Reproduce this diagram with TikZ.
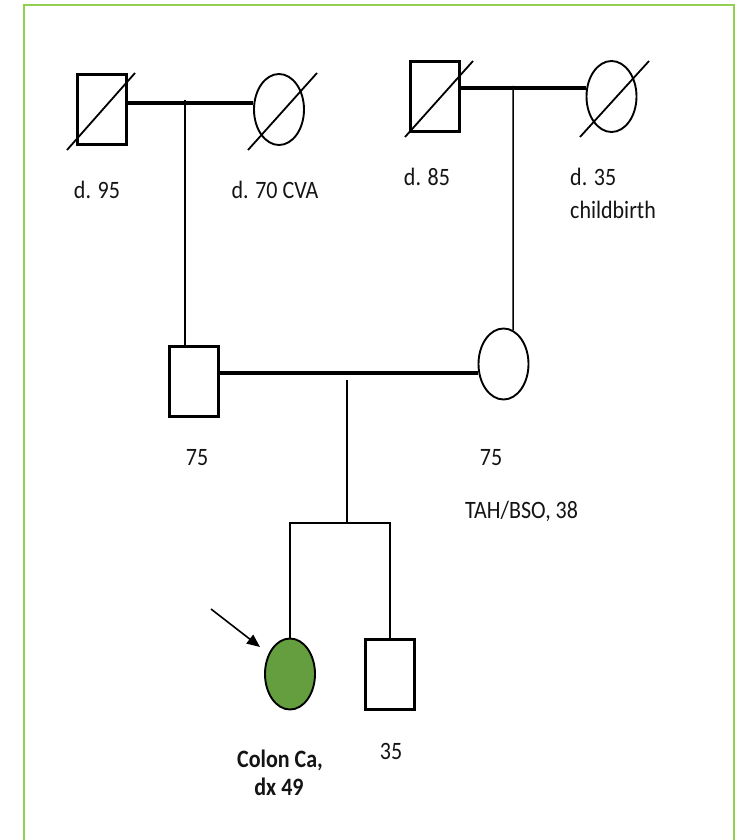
\documentclass[tikz,border=0pt]{standalone}
\usepackage{fontspec}
\setmainfont{Carlito}[FakeStretch=0.88]
\usetikzlibrary{shapes.geometric,arrows.meta}
\definecolor{frame}{RGB}{146,208,80}
\definecolor{ccgreen}{RGB}{100,158,62}
\begin{document}
\begin{tikzpicture}[x=1pt,y=-1pt,
  male/.style={draw,line width=3pt,rectangle,minimum width=49pt,minimum height=70pt,inner sep=0pt},
  female/.style={draw,line width=1.9pt,ellipse,minimum width=50pt,minimum height=71pt,inner sep=0pt},
  marr/.style={line width=3.2pt},
  thinl/.style={line width=1.5pt},
  desc/.style={line width=2.8pt},
  slash/.style={line width=1.8pt},
  lbl/.style={anchor=base,inner sep=0pt,font=\fontsize{25}{32}\selectfont,text=black!92},
  lblb/.style={lbl,font=\fontsize{25}{33}\selectfont\bfseries}
]
\useasboundingbox (0,0) rectangle (740,840);
\draw[draw=frame,line width=2pt] (24,5) rectangle (734,850);

% persons
\node[male] (gf1) at (102,109.5) {};
\node[female] (gm1) at (279,109.5) {};
\node[male] (gf2) at (434.5,96.5) {};
\node[female] (gm2) at (611.5,96.5) {};
\node[male] (fa) at (193.5,381) {};
\node[female] (mo) at (503.5,364) {};
\node[female,fill=ccgreen] (pr) at (290,674) {};
\node[male] (br) at (390,674.5) {};

% deceased slashes
\draw[slash] ([shift={(-35,40.5)}]gf1.center) -- ([shift={(33,-36.5)}]gf1.center);
\draw[slash] ([shift={(-31,40.5)}]gm1.center) -- ([shift={(38,-36.5)}]gm1.center);
\draw[slash] ([shift={(-29.5,40.5)}]gf2.center) -- ([shift={(38.5,-35.5)}]gf2.center);
\draw[slash] ([shift={(-31.5,40.5)}]gm2.center) -- ([shift={(37.5,-35.5)}]gm2.center);

% connectors
\coordinate (m1) at (185,103);
\coordinate (m2) at (513,88);
\coordinate (m3) at (347,373);
\coordinate (sib) at (347,523);
\draw[marr] (m1 -| gf1.east) -- (m1 -| gm1.west);
\draw[thinl] ([yshift=3pt]m1) -- (m1 |- fa.north);
\draw[marr] (m2 -| gf2.east) -- (m2 -| gm2.west);
\draw[thinl] ([yshift=2pt]m2) -- (mo.74);
\draw[marr] (m3 -| fa.east) -- (m3 -| mo.west);
\draw[desc] ([yshift=-7pt]m3) -- (sib);
\draw[desc] (pr.north) -- (pr.north |- sib) -- (br.north |- sib) -- (br.north);

% proband arrow
\coordinate (as) at (211,609);
\coordinate (ae) at (260,647);
\draw[line width=1.6pt,-{Triangle[length=13pt,width=11pt]}] (as) -- (ae);

% labels
\node[lbl] (l1) at (97,198) {d. 95};
\node[lbl] (l2) at (275,198) {d. 70 CVA};
\node[lbl] (l3) at (427,185) {d. 85};
\node[lbl,anchor=base west] (l4) at (570,185) {d. 35};
\node[lbl,anchor=base west] (l5) at (570,218) {childbirth};
\node[lbl] (l6) at (197,465) {75};
\node[lbl] (l7) at (491,465) {75};
\node[lbl,anchor=base west] (l8) at (465,518) {TAH/BSO, 38};
\node[lblb] (l9) at (280,767) {Colon Ca,};
\node[lblb] (l10) at (279,795) {dx 49};
\node[lbl] (l11) at (391,759) {35};
\end{tikzpicture}
\end{document}
